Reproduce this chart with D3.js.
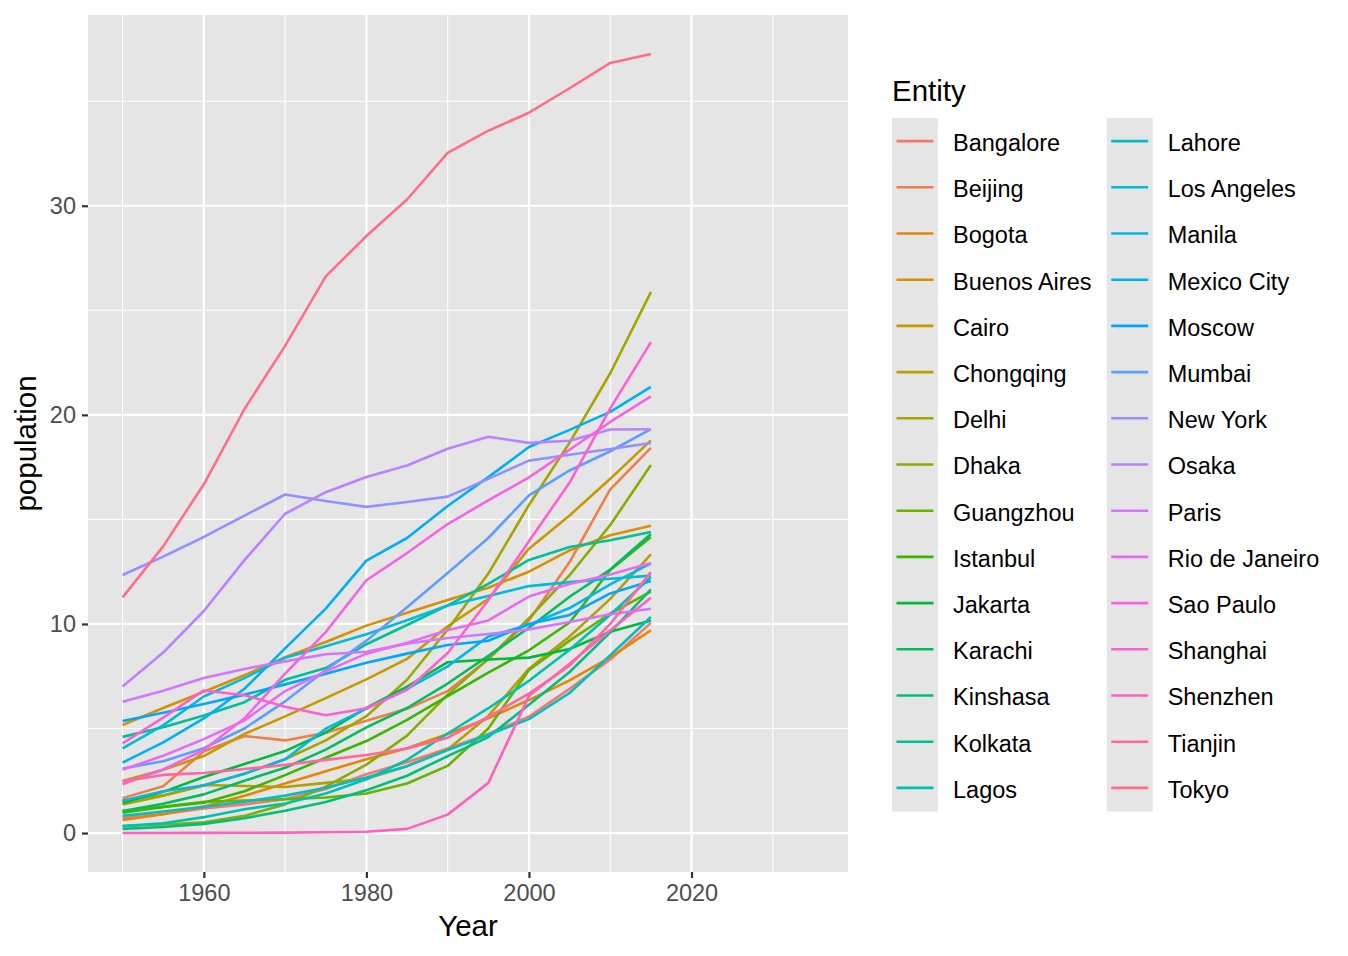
<!DOCTYPE html>
<html>
<head>
<meta charset="utf-8">
<script src="https://cdn.jsdelivr.net/npm/d3@7"></script>
<style>
  body { margin: 0; background: #fff; }
  text { font-family: "Liberation Sans", Arial, Helvetica, sans-serif; }
</style>
</head>
<body>
<svg id="chart" width="1348" height="956"></svg>
<script>
// years sampled every 5 years
const years = [1950, 1955, 1960, 1965, 1970, 1975, 1980, 1985, 1990, 1995, 2000, 2005, 2010, 2015];
const xLimits = [1950, 2035];
const xTicks = [1960, 1980, 2000, 2020];
const yTicks = [0, 10, 20, 30];

const cities = ['Bangalore', 'Beijing', 'Bogota', 'Buenos Aires', 'Cairo', 'Chongqing', 'Delhi', 'Dhaka',
  'Guangzhou', 'Istanbul', 'Jakarta', 'Karachi', 'Kinshasa', 'Kolkata', 'Lagos', 'Lahore', 'Los Angeles',
  'Manila', 'Mexico City', 'Moscow', 'Mumbai', 'New York', 'Osaka', 'Paris', 'Rio de Janeiro', 'Sao Paulo',
  'Shanghai', 'Shenzhen', 'Tianjin', 'Tokyo'];

// population in millions, one array per city
const bangalore   = [0.75, 0.91, 1.17, 1.37, 1.62, 2.11, 2.81, 3.39, 4.04, 4.74, 5.57, 6.9, 8.3, 10.05];
const beijing     = [1.67, 2.24, 3.91, 4.64, 4.43, 4.8, 5.37, 5.94, 6.79, 8.31, 10.16, 12.96, 16.44, 18.42];
const bogota      = [0.63, 0.9, 1.27, 1.78, 2.37, 2.95, 3.53, 4.06, 4.74, 5.49, 6.36, 7.3, 8.4, 9.7];
const buenosAires = [5.17, 5.98, 6.76, 7.55, 8.41, 9.14, 9.92, 10.54, 11.15, 11.73, 12.5, 13.52, 14.24, 14.7];
const cairo       = [2.49, 3.03, 3.68, 4.74, 5.58, 6.45, 7.35, 8.33, 9.89, 11.2, 13.6, 15.19, 16.94, 18.78];
const chongqing   = [1.57, 1.8, 2.3, 2.25, 2.2, 2.4, 2.6, 3.2, 4.0, 5.6, 7.86, 9.4, 11.2, 13.33];
const delhi       = [1.37, 1.78, 2.28, 2.84, 3.53, 4.43, 5.59, 7.33, 9.73, 12.41, 15.69, 18.67, 21.99, 25.87];
const dhaka       = [0.34, 0.41, 0.51, 0.82, 1.37, 2.22, 3.27, 4.66, 6.62, 8.33, 10.28, 12.33, 14.73, 17.6];
const guangzhou   = [1.05, 1.25, 1.5, 1.55, 1.62, 1.7, 1.89, 2.37, 3.21, 5.0, 7.8, 9.2, 10.5, 11.55];
const istanbul    = [0.97, 1.25, 1.45, 2.0, 2.77, 3.6, 4.4, 5.41, 6.55, 7.67, 8.74, 10.07, 12.58, 14.16];
const jakarta     = [1.45, 1.97, 2.68, 3.3, 3.92, 4.81, 5.98, 7.0, 8.17, 8.3, 8.39, 8.8, 9.63, 10.17];
const karachi     = [1.05, 1.4, 1.85, 2.5, 3.12, 3.99, 5.05, 5.98, 7.15, 8.47, 9.82, 11.3, 12.6, 14.3];
const kinshasa    = [0.2, 0.29, 0.44, 0.71, 1.07, 1.48, 2.05, 2.74, 3.68, 4.59, 6.14, 7.7, 9.6, 11.65];
const kolkata     = [4.6, 5.06, 5.62, 6.26, 7.33, 7.89, 9.03, 9.95, 10.89, 11.92, 13.06, 13.68, 14.0, 14.4];
const lagos       = [0.33, 0.47, 0.76, 1.14, 1.41, 1.89, 2.57, 3.5, 4.76, 5.97, 7.28, 8.77, 10.44, 12.24];
const lahore      = [0.83, 1.03, 1.26, 1.5, 1.79, 2.17, 2.66, 3.2, 3.97, 4.7, 5.45, 6.7, 8.5, 10.33];
const losAngeles  = [4.05, 5.15, 6.53, 7.41, 8.38, 8.93, 9.51, 10.18, 10.88, 11.34, 11.81, 12.0, 12.16, 12.31];
const manila      = [1.54, 2.0, 2.27, 2.83, 3.53, 4.99, 5.95, 6.89, 7.97, 9.4, 9.96, 10.76, 11.89, 12.9];
const mexicoCity  = [3.37, 4.34, 5.48, 6.9, 8.83, 10.73, 13.03, 14.11, 15.64, 17.02, 18.46, 19.28, 20.14, 21.34];
const moscow      = [5.36, 5.75, 6.17, 6.62, 7.11, 7.62, 8.14, 8.58, 8.99, 9.2, 10.0, 10.43, 11.46, 12.05];
const mumbai      = [3.09, 3.43, 4.06, 5.0, 6.3, 7.8, 9.2, 10.8, 12.44, 14.11, 16.15, 17.34, 18.26, 19.32];
const newYork     = [12.34, 13.22, 14.16, 15.18, 16.19, 15.88, 15.6, 15.83, 16.09, 16.94, 17.81, 18.09, 18.37, 18.65];
const osaka       = [7.01, 8.63, 10.62, 13.05, 15.27, 16.3, 17.03, 17.58, 18.38, 18.95, 18.66, 18.76, 19.3, 19.31];
const paris       = [6.28, 6.8, 7.41, 7.85, 8.21, 8.55, 8.67, 9.06, 9.33, 9.52, 9.74, 10.09, 10.46, 10.73];
const rio         = [3.03, 3.7, 4.49, 5.39, 6.79, 7.73, 8.58, 9.1, 9.7, 10.17, 11.31, 11.91, 12.37, 12.91];
const saoPaulo    = [2.33, 3.04, 3.97, 5.49, 7.62, 9.61, 12.09, 13.39, 14.78, 15.91, 17.01, 18.33, 19.66, 20.88];
const shanghai    = [4.29, 5.52, 6.82, 6.59, 6.04, 5.63, 5.97, 6.85, 8.61, 11.13, 13.96, 16.76, 20.31, 23.48];
const shenzhen    = [0.003, 0.005, 0.008, 0.014, 0.022, 0.036, 0.06, 0.2, 0.88, 2.4, 6.55, 8.1, 9.7, 11.25];
const tianjin     = [2.47, 2.78, 2.87, 3.06, 3.26, 3.5, 3.73, 4.04, 4.56, 5.56, 6.67, 8.0, 10.0, 12.48];
const tokyo       = [11.27, 13.71, 16.68, 20.28, 23.3, 26.62, 28.55, 30.3, 32.53, 33.59, 34.45, 35.62, 36.83, 37.26];

const values = [bangalore, beijing, bogota, buenosAires, cairo, chongqing, delhi, dhaka, guangzhou, istanbul,
  jakarta, karachi, kinshasa, kolkata, lagos, lahore, losAngeles, manila, mexicoCity, moscow, mumbai, newYork,
  osaka, paris, rio, saoPaulo, shanghai, shenzhen, tianjin, tokyo];

// R's hcl() (polar LUV) -> hex, like ggplot's hue palette
function hclR(h, c, l) {
  const WX = 95.047, WY = 100.0, WZ = 108.883;
  const t = WX + WY + WZ, x = WX / t, y = WY / t;
  const uN = 2 * x / (6 * y - x + 1.5), vN = 4.5 * y / (6 * y - x + 1.5);
  const hr = h * Math.PI / 180;
  const U = c * Math.cos(hr), V = c * Math.sin(hr);
  const Y = WY * (l > 7.999592 ? Math.pow((l + 16) / 116, 3) : l / 903.3);
  const u = U / (13 * l) + uN, v = V / (13 * l) + vN;
  const X = 9.0 * Y * u / (4 * v);
  const Z = -X / 3 - 5 * Y + 3 * Y / v;
  const g = q => q > 0.00304 ? 1.055 * Math.pow(q, 1 / 2.4) - 0.055 : 12.92 * q;
  const r = g((3.240479 * X - 1.537150 * Y - 0.498535 * Z) / WY);
  const gg = g((-0.969256 * X + 1.875992 * Y + 0.041556 * Z) / WY);
  const b = g((0.055648 * X - 0.204043 * Y + 1.057311 * Z) / WY);
  const cl = q => Math.round(255 * Math.max(0, Math.min(1, q)));
  return d3.rgb(cl(r), cl(gg), cl(b)).formatHex();
}
const n = cities.length;
const colors = cities.map((d, i) => hclR(15 + i * 360 / n, 100, 65));

const svg = d3.select('#chart');
const panel = { left: 88, right: 848, top: 15, bottom: 872 };

// ggplot style 5% expansion
const xPad = (xLimits[1] - xLimits[0]) * 0.05;
const yMax = d3.max(values, v => d3.max(v));
const yPad = yMax * 0.05;

const x = d3.scaleLinear()
  .domain([xLimits[0] - xPad, xLimits[1] + xPad])
  .range([panel.left, panel.right]);
const y = d3.scaleLinear()
  .domain([0 - yPad, yMax + yPad])
  .range([panel.bottom, panel.top]);

svg.append('rect')
  .attr('x', panel.left).attr('y', panel.top)
  .attr('width', panel.right - panel.left).attr('height', panel.bottom - panel.top)
  .attr('fill', '#e5e5e5');

// minor grid
const xMinor = [1950, 1970, 1990, 2010, 2030];
const yMinor = [5, 15, 25, 35];
svg.append('g').selectAll('line').data(xMinor).enter().append('line')
  .attr('x1', d => x(d)).attr('x2', d => x(d))
  .attr('y1', panel.top).attr('y2', panel.bottom)
  .attr('stroke', '#fff').attr('stroke-width', 1.1);
svg.append('g').selectAll('line').data(yMinor).enter().append('line')
  .attr('y1', d => y(d)).attr('y2', d => y(d))
  .attr('x1', panel.left).attr('x2', panel.right)
  .attr('stroke', '#fff').attr('stroke-width', 1.1);

// major grid
svg.append('g').selectAll('line').data(xTicks).enter().append('line')
  .attr('x1', d => x(d)).attr('x2', d => x(d))
  .attr('y1', panel.top).attr('y2', panel.bottom)
  .attr('stroke', '#fff').attr('stroke-width', 2.2);
svg.append('g').selectAll('line').data(yTicks).enter().append('line')
  .attr('y1', d => y(d)).attr('y2', d => y(d))
  .attr('x1', panel.left).attr('x2', panel.right)
  .attr('stroke', '#fff').attr('stroke-width', 2.2);

// lines
const line = d3.line()
  .x((d, i) => x(years[i]))
  .y(d => y(d));

svg.append('g').selectAll('path')
  .data(values)
  .enter()
  .append('path')
  .attr('d', d => line(d))
  .attr('fill', 'none')
  .attr('stroke', (d, i) => colors[i])
  .attr('stroke-width', 2.6)
  .attr('stroke-linejoin', 'round');

// axes
const xAxis = d3.axisBottom(x).tickValues(xTicks).tickSize(6).tickPadding(6).tickFormat(d3.format('d'));
const yAxis = d3.axisLeft(y).tickValues(yTicks).tickSize(6).tickPadding(6);

const gx = svg.append('g')
  .attr('transform', `translate(0,${panel.bottom})`)
  .call(xAxis);
const gy = svg.append('g')
  .attr('transform', `translate(${panel.left},0)`)
  .call(yAxis);

[gx, gy].forEach(g => {
  g.select('.domain').remove();
  g.selectAll('.tick line').attr('stroke', '#333').attr('stroke-width', 2.2);
  g.selectAll('.tick text')
    .attr('fill', '#4d4d4d')
    .style('font-size', '23.5px')
    .style('font-family', '"Liberation Sans", Arial, sans-serif');
});

svg.append('text')
  .attr('x', (panel.left + panel.right) / 2)
  .attr('y', 936)
  .attr('text-anchor', 'middle')
  .style('font-size', '29.5px')
  .text('Year');

svg.append('text')
  .attr('transform', `translate(36,${(panel.top + panel.bottom) / 2}) rotate(-90)`)
  .attr('text-anchor', 'middle')
  .style('font-size', '29.5px')
  .text('population');

// legend
const legend = svg.append('g');
legend.append('text')
  .attr('x', 892).attr('y', 101)
  .style('font-size', '29.5px')
  .text('Entity');

const rows = 15, keyW = 46, keyH = 46.2, colGap = 214.7, keyTop = 118;
const items = legend.selectAll('g.item')
  .data(cities)
  .enter()
  .append('g')
  .attr('class', 'item')
  .attr('transform', (d, i) => `translate(${892 + Math.floor(i / rows) * colGap},${keyTop + (i % rows) * keyH})`);

items.append('rect')
  .attr('width', keyW).attr('height', keyH + 0.5)
  .attr('fill', '#e5e5e5');
items.append('line')
  .attr('x1', 4.5).attr('x2', 41.5)
  .attr('y1', keyH / 2).attr('y2', keyH / 2)
  .attr('stroke', (d, i) => colors[i])
  .attr('stroke-width', 2.6);
items.append('text')
  .attr('x', 61)
  .attr('y', keyH / 2 + 1.5)
  .attr('dy', '0.36em')
  .style('font-size', '23.5px')
  .text(d => d);
</script>
</body>
</html>
